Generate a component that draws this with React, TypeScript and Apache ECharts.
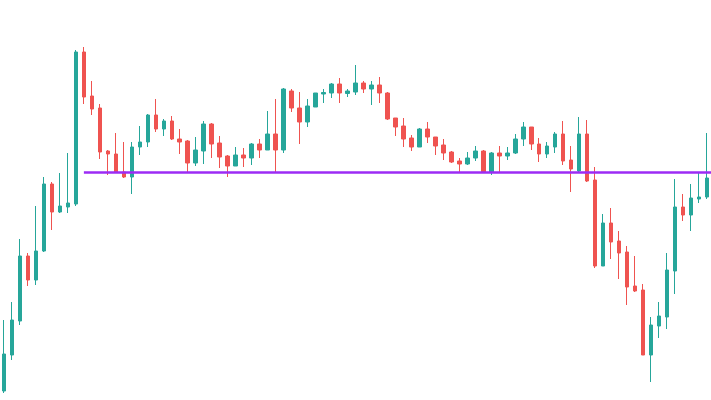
import React, { useEffect, useRef } from "react";
import * as echarts from "echarts";

// Candle values (open, close, low, high)
const opens = [9, 45, 79, 144, 120, 149, 216, 188, 193, 196, 348, 304, 292, 249, 246, 228, 223, 253, 258, 285, 271, 279, 261, 259, 237, 249, 276, 257, 244, 234, 245, 242, 256, 250, 266, 250, 309, 292, 278, 293, 306, 307, 316, 306.5, 308, 317, 311, 315, 307, 282, 274, 262, 253, 271, 263, 255, 248, 239, 236, 242, 249, 228, 247, 244, 247, 261, 273, 256, 246, 253, 266, 240, 229, 266, 220, 134, 177, 159, 148, 114, 110, 45, 74, 83, 129, 193, 185, 201, 203];
const closes = [46, 80, 144, 120, 149, 216, 188, 194, 197, 348, 303, 291, 248, 246, 228, 223, 253, 258, 285, 271, 279, 261, 258, 237, 250, 276, 256, 243, 234, 245, 242, 256, 250, 266, 250, 311, 292, 278, 294, 307, 307.5, 316, 307, 309, 317, 311, 315, 307, 281, 273, 261, 253, 271, 263, 254, 247, 238, 236, 242, 249, 228, 247, 244, 247, 261, 273, 256, 246, 254, 266, 239, 231, 266, 219, 134, 177, 158, 147, 113, 109, 45, 75, 84, 130, 193, 185, 202, 203, 222];
const lows = [7, 40, 75, 114, 115, 148, 170, 187, 187, 194, 296, 285, 241, 225, 227, 222, 206, 245, 253, 268, 264, 260, 246, 227, 234, 236, 242, 232, 223, 234, 233, 235, 242, 250, 228, 247, 288, 256, 273, 293, 297, 302, 297, 303, 305, 307, 295, 297, 280, 264, 253, 249, 253, 257, 245, 240, 237, 228, 235, 239, 228, 225, 228, 240, 246, 254, 250, 238, 242, 247, 235, 208, 228, 218, 132, 134, 141, 121, 95, 108, 45, 18, 62, 71, 106, 179, 169, 197, 201];
const highs = [80, 98, 161, 147, 194, 223, 218, 227, 247, 350, 353, 319, 296, 250, 267, 258, 258, 274, 286, 301, 281, 284, 271, 260, 263, 279, 277, 264, 245, 253, 252, 257, 261, 289, 301, 312, 311, 308, 301, 307, 311, 317, 322, 311, 335, 319, 319, 323, 308, 282, 282, 265, 272, 278, 263, 261, 249, 242, 248, 254, 250, 248, 254, 253, 266, 278, 273, 262, 258, 268, 279, 254, 283, 280, 233, 186, 192, 169, 154, 144, 116, 83, 98, 147, 221, 206, 216, 228, 267];

const categories = opens.map((_, i) => String(i + 1));
const levelValue = 228;
const levelStartIndex = 10;

const UP = "#26a69a";
const DOWN = "#ef5350";
const LEVEL = "#9c2bf5";

export default function App() {
  const ref = useRef<HTMLDivElement>(null);

  useEffect(() => {
    if (!ref.current) return;
    const chart = echarts.init(ref.current, undefined, { renderer: "svg" });
    const data = opens.map((o, i) => [o, closes[i], lows[i], highs[i]]);
    chart.setOption({
      animation: false,
      backgroundColor: "#ffffff",
      grid: { left: 0, right: 0, top: 0, bottom: 0 },
      xAxis: {
        type: "category",
        data: categories,
        boundaryGap: true,
        show: false,
      },
      yAxis: {
        type: "value",
        min: 0,
        max: 400,
        show: false,
        splitLine: { show: false },
      },
      series: [
        {
          type: "candlestick",
          data,
          barWidth: 4,
          itemStyle: {
            color: UP,
            color0: DOWN,
            borderColor: UP,
            borderColor0: DOWN,
            borderWidth: 1,
          },
          emphasis: { disabled: true },
        },
      ],
    });
    // level line: from the start candle to the right edge of the plot
    const yPx = chart.convertToPixel({ yAxisIndex: 0 }, levelValue) as number;
    chart.setOption({
      series: [
        {
          markLine: {
            silent: true,
            symbol: ["none", "none"],
            label: { show: false },
            lineStyle: { color: LEVEL, width: 2.5, type: "solid" },
            emphasis: { disabled: true },
            data: [
              [
                { coord: [categories[levelStartIndex], levelValue] },
                { x: "100%", y: yPx },
              ],
            ],
          },
        },
      ],
    });
    return () => chart.dispose();
  }, []);

  return (
    <div
      ref={ref}
      style={{ position: "absolute", left: 0, top: 0, width: 711, height: 400 }}
    />
  );
}
